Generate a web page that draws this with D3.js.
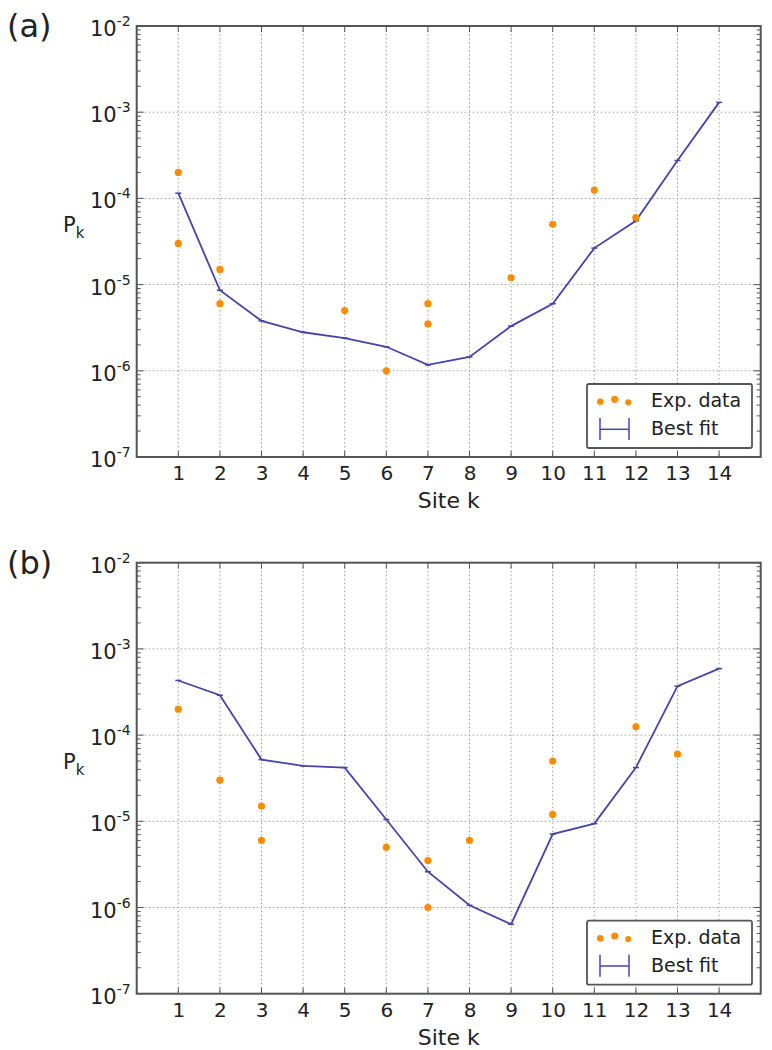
<!DOCTYPE html>
<html>
<head>
<meta charset="utf-8">
<script src="https://cdn.jsdelivr.net/npm/d3@7"></script>
<style>
  html, body { margin: 0; padding: 0; background: #fff; }
  svg { display: block; }
  text { font-family: "DejaVu Sans", sans-serif; fill: #222; }
</style>
</head>
<body>
<svg id="chart" width="772" height="1050"></svg>
<script>
// ---------------- data ----------------
const sites = [1, 2, 3, 4, 5, 6, 7, 8, 9, 10, 11, 12, 13, 14];
const yTickExponents = [-2, -3, -4, -5, -6, -7];
const panelLabels = ["(a)", "(b)"];

// Panel (a)
const fitA = [1.15e-4, 8.6e-6, 3.8e-6, 2.8e-6, 2.4e-6, 1.9e-6, 1.17e-6, 1.45e-6, 3.3e-6, 6.0e-6, 2.65e-5, 5.5e-5, 2.75e-4, 1.3e-3];
const expSitesA = [1, 1, 2, 2, 5, 6, 7, 7, 9, 10, 11, 12];
const expValsA  = [2.0e-4, 3.0e-5, 1.5e-5, 6.0e-6, 5.0e-6, 1.0e-6, 6.0e-6, 3.5e-6, 1.2e-5, 5.0e-5, 1.25e-4, 6.0e-5];

// Panel (b)
const fitB = [4.3e-4, 2.9e-4, 5.2e-5, 4.4e-5, 4.2e-5, 1.05e-5, 2.6e-6, 1.06e-6, 6.4e-7, 7.1e-6, 9.4e-6, 4.2e-5, 3.7e-4, 5.9e-4];
const expSitesB = [1, 2, 3, 3, 6, 7, 7, 8, 10, 10, 12, 13];
const expValsB  = [2.0e-4, 3.0e-5, 1.5e-5, 6.0e-6, 5.0e-6, 3.5e-6, 1.0e-6, 6.0e-6, 5.0e-5, 1.2e-5, 1.25e-4, 6.0e-5];

const legendLabels = ["Exp. data", "Best fit"];
const xLabel = "Site k";

// ---------------- layout ----------------
const svg = d3.select("#chart");
const left = 136.7, right = 760.7, plotH = 431;
const panelTops = [26, 562.7];
const lineColor = "#4545a8";
const dotColor = "#ff8c00";
const frameColor = "#555";
const gridColor = "#9a9a9a";

const x = d3.scaleLinear().domain([0, 15]).range([left, right]);
const y = d3.scaleLog().domain([1e-7, 1e-2]).range([plotH, 0]);

function drawPanel(top, label, fit, expSites, expVals) {
  const g = svg.append("g").attr("transform", `translate(0,${top})`);

  // grid
  g.append("g").selectAll("line.vg").data(sites).join("line")
    .attr("x1", d => x(d)).attr("x2", d => x(d))
    .attr("y1", 0).attr("y2", plotH)
    .attr("stroke", gridColor).attr("stroke-width", 1)
    .attr("stroke-dasharray", "1.5,2.5");
  g.append("g").selectAll("line.hg").data(yTickExponents).join("line")
    .attr("x1", left).attr("x2", right)
    .attr("y1", d => y(Math.pow(10, d))).attr("y2", d => y(Math.pow(10, d)))
    .attr("stroke", gridColor).attr("stroke-width", 1)
    .attr("stroke-dasharray", "1.5,2.5");

  // minor ticks (log), left & right, inside
  const minors = y.ticks().filter(v => Math.abs(Math.log10(v) - Math.round(Math.log10(v))) > 1e-6);
  const mg = g.append("g").attr("stroke", frameColor).attr("stroke-width", 1);
  mg.selectAll("line.ml").data(minors).join("line")
    .attr("x1", left).attr("x2", left + 4)
    .attr("y1", d => y(d)).attr("y2", d => y(d));
  mg.selectAll("line.mr").data(minors).join("line")
    .attr("x1", right).attr("x2", right - 4)
    .attr("y1", d => y(d)).attr("y2", d => y(d));
  // major ticks inside
  const majors = yTickExponents.map(e => Math.pow(10, e));
  mg.selectAll("line.Ml").data(majors).join("line")
    .attr("x1", left).attr("x2", left + 7)
    .attr("y1", d => y(d)).attr("y2", d => y(d));
  mg.selectAll("line.Mr").data(majors).join("line")
    .attr("x1", right).attr("x2", right - 7)
    .attr("y1", d => y(d)).attr("y2", d => y(d));
  mg.selectAll("line.xt").data(sites).join("line")
    .attr("x1", d => x(d)).attr("x2", d => x(d))
    .attr("y1", 0).attr("y2", 6);
  mg.selectAll("line.xb").data(sites).join("line")
    .attr("x1", d => x(d)).attr("x2", d => x(d))
    .attr("y1", plotH).attr("y2", plotH - 6);

  // x axis labels
  const xa = g.append("g").attr("transform", `translate(0,${plotH})`)
    .call(d3.axisBottom(x).tickValues(sites).tickSize(0).tickPadding(9).tickFormat(d3.format("d")));
  xa.select(".domain").remove();
  xa.selectAll("text").attr("font-size", 20).attr("font-family", "DejaVu Sans").attr("fill", "#222");

  // y axis labels with superscripts
  const ya = g.append("g").attr("transform", `translate(${left},0)`)
    .call(d3.axisLeft(y).tickValues(majors).tickSize(0).tickPadding(0).tickFormat(""));
  ya.select(".domain").remove();
  ya.selectAll(".tick").each(function(d) {
    const t = d3.select(this).append("text")
      .attr("x", -6).attr("y", 9.5).attr("text-anchor", "end")
      .attr("font-size", 21).attr("fill", "#222");
    t.append("tspan").text("10");
    t.append("tspan").attr("font-size", 14).attr("dy", -10).text("-" + (-Math.round(Math.log10(d))));
  });

  // fit line
  const lineGen = d3.line().x((d, i) => x(sites[i])).y(d => y(d));
  g.append("path").datum(fit).attr("d", lineGen)
    .attr("fill", "none").attr("stroke", lineColor).attr("stroke-width", 1.8)
    .attr("stroke-linejoin", "miter");
  g.append("g").selectAll("line").data(fit).join("line")
    .attr("x1", (d, i) => x(sites[i]) - 3).attr("x2", (d, i) => x(sites[i]) + 3)
    .attr("y1", d => y(d)).attr("y2", d => y(d))
    .attr("stroke", lineColor).attr("stroke-width", 1.5);

  // experimental dots
  g.append("g").selectAll("circle").data(expVals).join("circle")
    .attr("cx", (d, i) => x(expSites[i])).attr("cy", d => y(d))
    .attr("r", 3.6).attr("fill", dotColor);

  // frame
  g.append("rect").attr("x", left).attr("y", 0).attr("width", right - left).attr("height", plotH)
    .attr("fill", "none").attr("stroke", frameColor).attr("stroke-width", 2);

  // axis titles
  g.append("text").attr("x", (left + right) / 2).attr("y", plotH + 51)
    .attr("text-anchor", "middle").attr("font-size", 22).text(xLabel);
  const pk = g.append("text").attr("x", 63).attr("y", 206).attr("font-size", 21);
  pk.append("tspan").text("P");
  pk.append("tspan").attr("font-size", 15).attr("dy", 6).text("k");

  // panel label
  svg.append("text").attr("x", 7).attr("y", top + 11)
    .attr("font-family", "Liberation Sans, sans-serif").attr("font-size", 32)
    .attr("fill", "#333").text(label);

  // legend
  const lg = g.append("g");
  lg.append("rect").attr("x", 587).attr("y", 358).attr("width", 165).attr("height", 64)
    .attr("rx", 2).attr("fill", "#fff").attr("stroke", frameColor).attr("stroke-width", 1.8);
  const ldx = [600.3, 614.7, 628.3], ldy = [375.7, 373.3, 376.3], ldr = [3.3, 3.6, 3.1];
  lg.selectAll("circle").data(ldx).join("circle")
    .attr("cx", d => d).attr("cy", (d, i) => ldy[i]).attr("r", (d, i) => ldr[i]).attr("fill", dotColor);
  lg.append("text").attr("x", 651).attr("y", 381).attr("font-size", 19).text(legendLabels[0]);
  lg.append("line").attr("x1", 600).attr("x2", 629).attr("y1", 403.3).attr("y2", 403.3)
    .attr("stroke", lineColor).attr("stroke-width", 1.5);
  [600, 629].forEach(cx => lg.append("line").attr("x1", cx).attr("x2", cx)
    .attr("y1", 392).attr("y2", 414).attr("stroke", lineColor).attr("stroke-width", 1.5));
  lg.append("text").attr("x", 651).attr("y", 409).attr("font-size", 19).text(legendLabels[1]);
}

drawPanel(panelTops[0], panelLabels[0], fitA, expSitesA, expValsA);
drawPanel(panelTops[1], panelLabels[1], fitB, expSitesB, expValsB);
</script>
</body>
</html>
